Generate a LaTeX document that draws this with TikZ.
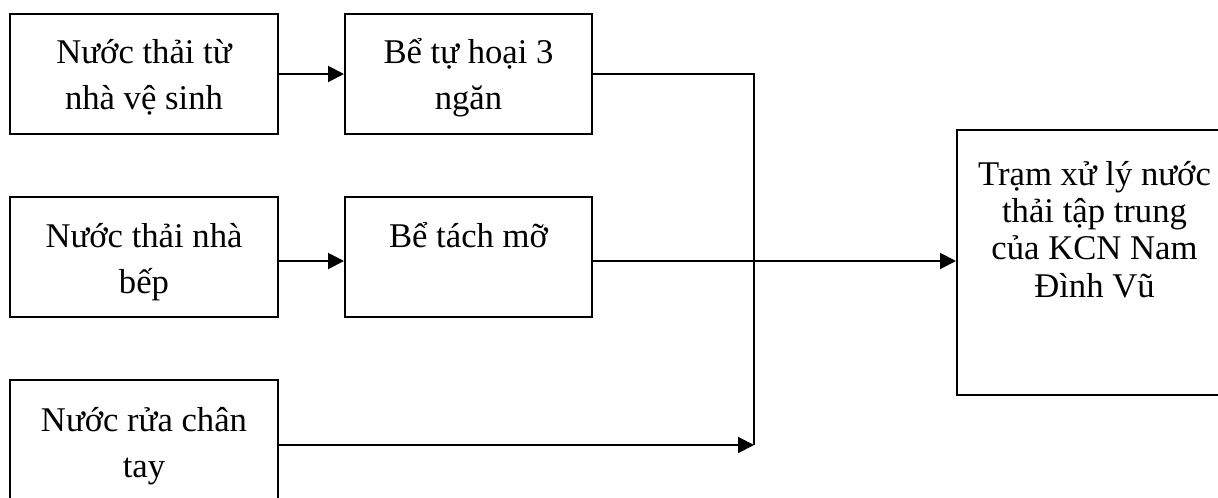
\documentclass[tikz,border=0pt]{standalone}
\usepackage{fontspec}
\setmainfont{Liberation Serif}
\usetikzlibrary{arrows.meta}
\newcommand{\boxlines}[1]{\begin{tabular}[t]{@{}c@{}}#1\end{tabular}}
\begin{document}
\begin{tikzpicture}[x=0.75pt,y=-0.75pt,
  boxnode/.style={draw, line width=1.5pt, rectangle, inner sep=0pt, minimum width=#1},
  boxnode/.default=268pt,
  lefttxt/.style={anchor=base, inner sep=0pt, font=\fontsize{26}{34.5}\selectfont},
  righttxt/.style={anchor=base, inner sep=0pt, font=\fontsize{26}{28}\selectfont},
  wire/.style={line width=1.5pt},
  arr/.style={line width=1.5pt, -{Triangle[length=12pt,width=12pt]}}]
\useasboundingbox (0,0) rectangle (1218,497);
\clip (0,0) rectangle (1218,497);
% boxes
\node[boxnode=201pt, minimum height=90pt] (b1) at (144,74) {};
\node[boxnode=185.25pt, minimum height=90pt] (b2) at (468.5,74) {};
\node[boxnode=201pt, minimum height=90pt] (b3) at (144,257) {};
\node[boxnode=185.25pt, minimum height=90pt] (b4) at (468.5,257) {};
\node[boxnode=201pt, minimum height=90pt] (b5) at (144,440) {};
\node[boxnode=206.25pt, minimum height=198.75pt] (b6) at (1094.5,262.5) {};
% texts
\node[lefttxt] (t1) at (144,63) {\boxlines{Nước thải từ\\nhà vệ sinh}};
\node[lefttxt] (t2) at (468.5,63) {\boxlines{Bể tự hoại 3\\ngăn}};
\node[lefttxt] (t3) at (144,247) {\boxlines{Nước thải nhà\\bếp}};
\node[lefttxt] (t4) at (468.5,247) {\boxlines{Bể tách mỡ}};
\node[lefttxt] (t5) at (144,431) {\boxlines{Nước rửa chân\\tay}};
\node[righttxt] (t6) at (1094.5,185) {\boxlines{Trạm xử lý nước\\thải tập trung\\của KCN Nam\\Đình Vũ}};
% junction points
\coordinate (jtop) at (754,74);
\coordinate (jmid) at (754,261);
\coordinate (jbot) at (754,445);
% connectors
\draw[arr] (b1.east) -- (b2.west);
\draw[arr] (b3.east |- jmid) -- (b4.west |- jmid);
\draw[wire] (b2.east) -- (jtop) -- (jbot);
\draw[wire] (b4.east |- jmid) -- (jmid);
\draw[arr] (jmid) -- (b6.west |- jmid);
\draw[arr] (b5.east |- jbot) -- (jbot);
\end{tikzpicture}
\end{document}
